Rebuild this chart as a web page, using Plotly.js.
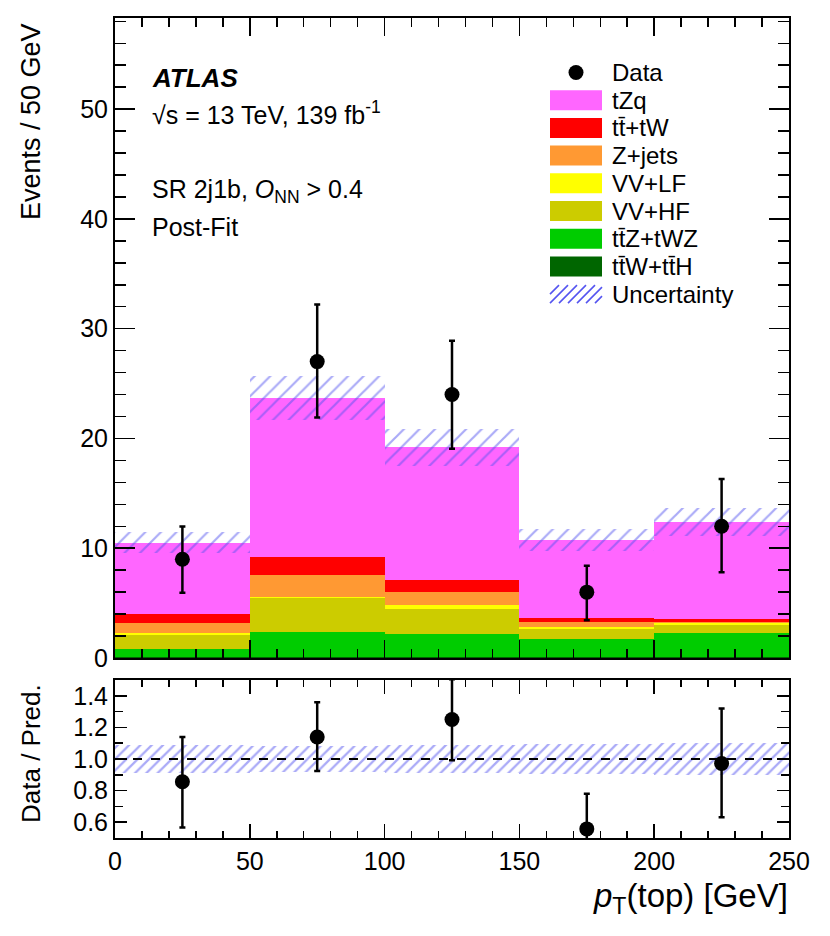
<!DOCTYPE html>
<html>
<head>
<meta charset="utf-8">
<script src="https://cdn.plot.ly/plotly-3.0.1.min.js"></script>
<style>
  body { margin: 0; background: white; }
  #chart { width: 830px; height: 936px; }
</style>
</head>
<body>
<div id="chart"></div>
<script>
// bins of pT(top), 50 GeV wide
var binCenters = [25, 75, 125, 175, 225]

// stacked backgrounds, bottom to top
var ttWttH = [0.10, 0.12, 0.10, 0.08, 0.10]
var ttZtWZ = [0.72, 2.28, 2.09, 1.68, 2.15]
var vvHF = [1.31, 3.05, 2.31, 0.91, 0.79]
var vvLF = [0.15, 0.15, 0.30, 0.18, 0.12]
var zJets = [0.88, 1.94, 1.19, 0.43, 0.15]
var ttbarTW = [0.88, 1.70, 1.09, 0.39, 0.22]
var tZq = [6.47, 14.46, 12.12, 7.09, 8.82]

// total prediction uncertainty
var predErr = [0.96, 2.0, 1.7, 1.0, 1.28]

// data
var dataY = [9, 27, 24, 6, 12]
var dataErrUp = [2.97, 5.2, 4.9, 2.4, 4.3]
var dataErrDn = [3.05, 5.1, 4.95, 2.55, 4.2]

var stackNames = ['t\u0074\u0304W+t\u0074\u0304H', 't\u0074\u0304Z+tWZ', 'VV+HF', 'VV+LF', 'Z+jets', 't\u0074\u0304+tW', 'tZq']
var stackColors = ['#006600', '#00cc00', '#cccc00', '#ffff00', '#ff9933', '#ff0000', '#ff66ff']
var stackVals = [ttWttH, ttZtWZ, vvHF, vvLF, zJets, ttbarTW, tZq]

var hatchColor = '#5555f0'
var fontFam = 'Liberation Sans, Arial, sans-serif'

// page geometry
var L = 115, R = 41, T = 18, B = 98
var W = 830 - L - R
var H = 936 - T - B
function fx(p) { return (p - L) / W }
function fy(p) { return (936 - B - p) / H }

var data = []
var base = [0, 0, 0, 0, 0]
for (let i = 0; i < stackVals.length; i++) {
    data.push({
        type: 'bar',
        x: binCenters,
        y: stackVals[i],
        base: base.slice(),
        width: 50,
        marker: { color: stackColors[i], line: { width: 0 } },
        xaxis: 'x', yaxis: 'y',
        hoverinfo: 'skip'
    })
    base = base.map((b, j) => b + stackVals[i][j])
}
var total = base

// uncertainty hatch on main panel
data.push({
    type: 'bar',
    x: binCenters,
    y: predErr.map(e => 2 * e),
    base: total.map((t, j) => t - predErr[j]),
    width: 50,
    marker: {
        color: 'rgba(0,0,0,0)',
        line: { width: 0 },
        pattern: { shape: '/', fgcolor: hatchColor, bgcolor: 'rgba(0,0,0,0)', size: 11, solidity: 0.2, fillmode: 'overlay' }
    },
    xaxis: 'x', yaxis: 'y'
})

var errStyle = { color: 'black', thickness: 2.5, width: 3 }

data.push({
    type: 'scatter',
    mode: 'markers',
    x: binCenters,
    y: dataY,
    marker: { color: 'black', size: 15 },
    error_y: Object.assign({ type: 'data', symmetric: false, array: dataErrUp, arrayminus: dataErrDn }, errStyle),
    xaxis: 'x', yaxis: 'y'
})

// ratio panel
var relErr = predErr.map((e, j) => e / total[j])
data.push({
    type: 'bar',
    x: binCenters,
    y: relErr.map(e => 2 * e),
    base: relErr.map(e => 1 - e),
    width: 50,
    marker: {
        color: 'rgba(0,0,0,0)',
        line: { width: 0 },
        pattern: { shape: '/', fgcolor: hatchColor, bgcolor: 'rgba(0,0,0,0)', size: 8, solidity: 0.28, fillmode: 'overlay' }
    },
    xaxis: 'x2', yaxis: 'y2'
})

data.push({
    type: 'scatter',
    mode: 'markers',
    x: binCenters,
    y: dataY.map((d, j) => d / total[j]),
    marker: { color: 'black', size: 15 },
    error_y: Object.assign({
        type: 'data', symmetric: false,
        array: dataErrUp.map((e, j) => e / total[j]),
        arrayminus: dataErrDn.map((e, j) => e / total[j])
    }, errStyle),
    xaxis: 'x2', yaxis: 'y2'
})

// hand drawn legend (wide boxes, like ROOT)
var shapes = []
var annotations = []
var legNames = ['Data'].concat(stackNames.slice().reverse()).concat(['Uncertainty'])
var legColors = stackColors.slice().reverse()
var legY0 = 72.5, legStep = 27.7
var boxX0 = 550, boxX1 = 602, textX = 610

legNames.forEach((name, i) => {
    var cy = legY0 + i * legStep
    annotations.push({
        xref: 'paper', yref: 'paper', x: fx(textX), y: fy(cy),
        xanchor: 'left', yanchor: 'middle', showarrow: false,
        text: name, font: { size: 24, color: 'black' }
    })
    if (i == 0) {
        shapes.push({
            type: 'circle', xref: 'paper', yref: 'paper', layer: 'above',
            x0: fx(576 - 7.5), x1: fx(576 + 7.5), y0: fy(cy - 7.5), y1: fy(cy + 7.5),
            fillcolor: 'black', line: { width: 0 }
        })
    } else if (i <= legColors.length) {
        shapes.push({
            type: 'rect', xref: 'paper', yref: 'paper', layer: 'above',
            x0: fx(boxX0), x1: fx(boxX1), y0: fy(cy - 10), y1: fy(cy + 10),
            fillcolor: legColors[i - 1], line: { width: 0 }
        })
    } else {
        // hatch lines clipped to the box
        var yb = cy + 9, yt = cy - 9, rise = 18
        for (let a = boxX0 - rise; a < boxX1; a += 9) {
            var xa = a, ya = yb, xb = a + rise, ybb = yt
            if (xa < boxX0) { ya = yb - (boxX0 - xa); xa = boxX0 }
            if (xb > boxX1) { ybb = yt + (xb - boxX1); xb = boxX1 }
            shapes.push({
                type: 'line', xref: 'paper', yref: 'paper', layer: 'above',
                x0: fx(xa), y0: fy(ya), x1: fx(xb), y1: fy(ybb),
                line: { color: hatchColor, width: 1.6 }
            })
        }
    }
})

// ratio reference line
shapes.push({
    type: 'line', xref: 'x2', yref: 'y2', x0: 0, x1: 250, y0: 1, y1: 1,
    line: { color: 'black', width: 2, dash: 'dash' }, layer: 'above'
})

function label(text, xp, yp, size, xanchor, opts) {
    return Object.assign({
        xref: 'paper', yref: 'paper', x: fx(xp), y: fy(yp),
        xanchor: xanchor, yanchor: 'middle', showarrow: false,
        text: text, font: { size: size, color: 'black' }
    }, opts || {})
}

annotations.push(label('<b><i>ATLAS</i></b>', 150, 78, 26, 'left'))
annotations.push(label('\u221As = 13 TeV, 139 fb<sup>-1</sup>', 150, 113, 25, 'left'))
annotations.push(label('SR 2j1b, <i>O</i><sub>NN</sub> > 0.4', 150, 191, 25, 'left'))
annotations.push(label('Post-Fit', 150, 227, 25, 'left'))
annotations.push(label('Events / 50 GeV', 31, 122, 27, 'center', { textangle: -90 }))
annotations.push(label('Data / Pred.', 31, 754, 26, 'center', { textangle: -90 }))
annotations.push(label('<i>p</i><sub>T</sub>(top) [GeV]', 790, 898, 33, 'right'))

var axisCommon = {
    showline: true, linecolor: 'black', linewidth: 2, mirror: 'ticks',
    ticks: 'inside', tickcolor: 'black', tickwidth: 1.5,
    showgrid: false, zeroline: false,
    tickfont: { size: 25, color: 'black' }
}

var layout = {
    width: 830, height: 936,
    margin: { l: L, r: R, t: T, b: B },
    paper_bgcolor: 'white', plot_bgcolor: 'white',
    font: { family: fontFam, color: 'black' },
    showlegend: false,
    barmode: 'overlay',
    bargap: 0,
    xaxis: Object.assign({}, axisCommon, {
        domain: [0, 1], anchor: 'y', range: [0, 250], dtick: 50, ticklen: 18,
        showticklabels: false,
        minor: { dtick: 10, ticklen: 9, ticks: 'inside', tickcolor: 'black', tickwidth: 1.5 }
    }),
    yaxis: Object.assign({}, axisCommon, {
        domain: [fy(658), 1], anchor: 'x', range: [0, 58.3], dtick: 10, ticklen: 20,
        minor: { dtick: 2, ticklen: 11, ticks: 'inside', tickcolor: 'black', tickwidth: 1.5 }
    }),
    xaxis2: Object.assign({}, axisCommon, {
        domain: [0, 1], anchor: 'y2', range: [0, 250], dtick: 50, ticklen: 14,
        minor: { dtick: 10, ticklen: 7, ticks: 'inside', tickcolor: 'black', tickwidth: 1.5 }
    }),
    yaxis2: Object.assign({}, axisCommon, {
        domain: [0, fy(680)], anchor: 'x2', range: [0.5, 1.5], tick0: 0, dtick: 0.2, ticklen: 12,
        tickformat: '.1f',
        minor: { dtick: 0.1, ticklen: 8, ticks: 'inside', tickcolor: 'black', tickwidth: 1.5 }
    }),
    shapes: shapes,
    annotations: annotations
}

Plotly.newPlot('chart', data, layout, { displayModeBar: false, staticPlot: true })
</script>
</body>
</html>
